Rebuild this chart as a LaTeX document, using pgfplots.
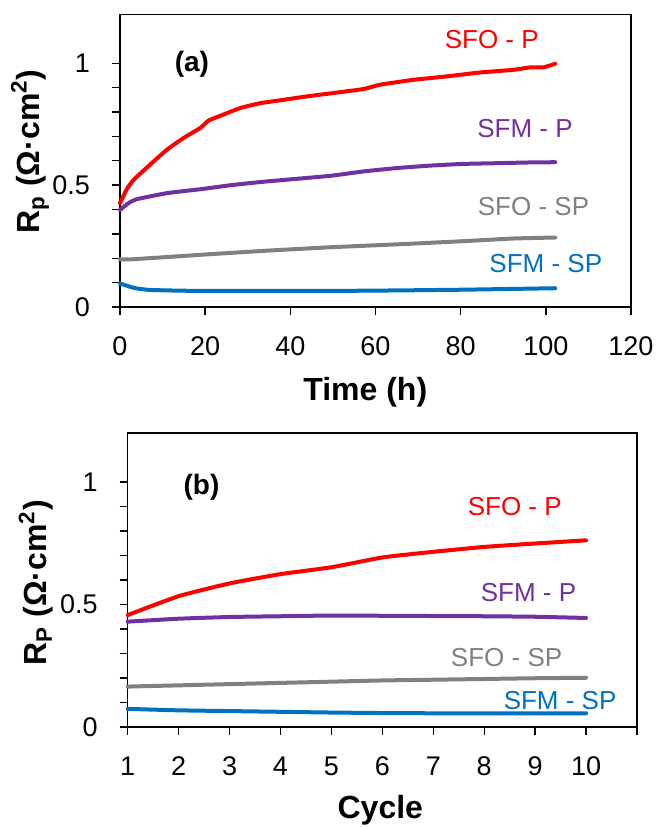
\documentclass[border=0pt]{standalone}
\usepackage{fontspec}
\setmainfont{Liberation Sans}
\usepackage{pgfplots}
\pgfplotsset{compat=1.18}
\definecolor{cRed}{RGB}{255,0,0}
\definecolor{cPur}{RGB}{112,48,160}
\definecolor{cGry}{RGB}{128,128,128}
\definecolor{cBlu}{RGB}{0,112,192}
\tikzset{lbl/.style={font=\fontsize{13}{15}\selectfont}}
\pgfplotsset{
 common/.style={
  scale only axis,
  axis line style={line width=0.7pt},
  tick align=outside, tick pos=left,
  major tick length=4pt, minor tick length=4pt,
  every tick/.style={black, line width=0.7pt},
  ymin=0, ymax=1.2, ytick={0,0.5,1}, minor y tick num=4,
  tick label style={font=\fontsize{13.5}{15}\selectfont},
  /pgf/number format/assume math mode=true,
  yticklabel style={xshift=-7.5pt},
  xticklabel style={yshift=-7.5pt},
  every axis plot/.append style={line width=2pt, line join=round, line cap=round, smooth, tension=0.3},
  clip=false,
 }
}
\begin{document}
\begin{tikzpicture}
\useasboundingbox (0,0) rectangle (329pt,413.5pt);
\begin{axis}[common, at={(60pt,260pt)}, width=255.5pt, height=146.25pt,
  xmin=0, xmax=120, xtick={0,20,...,120},
  xlabel={\fontsize{16}{18}\selectfont\bfseries Time (h)},
  xlabel style={at={(axis description cs:0.48,-0.29)}, anchor=center},
  ylabel={\fontsize{16}{18}\selectfont\bfseries R\textsubscript{p} (Ω·cm\textsuperscript{2})},
  ylabel style={at={(axis description cs:-0.176,0.532)}, anchor=center}]
\addplot[cRed] coordinates {(0,0.426) (1.5,0.48) (3.1,0.52) (7,0.583) (11,0.645) (14.9,0.693) (18.8,0.734) (20.8,0.765) (23.5,0.784) (28.2,0.816) (32.9,0.836) (38.4,0.850) (43.9,0.864) (49.3,0.876) (57.1,0.894) (61.1,0.912) (68.9,0.932) (76.7,0.946) (84.5,0.962) (92.4,0.973) (96.3,0.983) (99.4,0.983) (102.2,0.998)};
\addplot[cPur] coordinates {(0,0.398) (2,0.426) (3.9,0.442) (11,0.467) (18.8,0.483) (26.6,0.501) (34.4,0.515) (49.3,0.538) (57.1,0.556) (65,0.570) (72.8,0.580) (80.6,0.587) (88.5,0.590) (96.3,0.593) (102.2,0.594)};
\addplot[cGry] coordinates {(0,0.196) (3.1,0.196) (18.8,0.214) (34.4,0.231) (49.3,0.245) (65,0.257) (80.6,0.270) (92.4,0.281) (102.2,0.285)};
\addplot[cBlu] coordinates {(0,0.097) (3.1,0.079) (7,0.070) (18.8,0.066) (49.3,0.066) (65,0.068) (80.6,0.071) (102.2,0.077)};
\node[font=\fontsize{14}{16}\selectfont\bfseries] at (axis cs:16.9,0.994) {(a)};
\node[lbl, text=cRed] at (axis cs:87.3,1.099) {SFO - P};
\node[lbl, text=cPur] at (axis cs:95.1,0.731) {SFM - P};
\node[lbl, text=cGry] at (axis cs:97.1,0.412) {SFO - SP};
\node[lbl, text=cBlu] at (axis cs:100,0.179) {SFM - SP};
\end{axis}
\begin{axis}[common, at={(63.85pt,50pt)}, width=254.65pt, height=147pt,
  xmin=1, xmax=11, xtick={1,...,11}, xticklabels={1,2,3,4,5,6,7,8,9,10,{}},
  xlabel={\fontsize{16}{18}\selectfont\bfseries Cycle},
  xlabel style={at={(axis description cs:0.496,-0.282)}, anchor=center},
  ylabel={\fontsize{16}{18}\selectfont\bfseries R\textsubscript{P} (Ω·cm\textsuperscript{2})},
  ylabel style={at={(axis description cs:-0.18,0.49)}, anchor=center}]
\addplot[cRed] coordinates {(1,0.457) (2,0.534) (3,0.586) (4,0.624) (5,0.652) (6,0.692) (7,0.715) (8,0.735) (9,0.749) (10,0.762)};
\addplot[cPur] coordinates {(1,0.430) (2,0.442) (3,0.449) (4,0.452) (5,0.455) (6,0.454) (7,0.453) (8,0.452) (9,0.450) (10,0.445)};
\addplot[cGry] coordinates {(1,0.165) (2,0.170) (3,0.175) (4,0.180) (5,0.185) (6,0.190) (7,0.193) (8,0.196) (9,0.199) (10,0.201)};
\addplot[cBlu] coordinates {(1,0.074) (2,0.068) (3,0.065) (4,0.062) (5,0.059) (6,0.057) (7,0.056) (8,0.056) (9,0.056) (10,0.056)};
\node[font=\fontsize{14}{16}\selectfont\bfseries] at (axis cs:2.45,0.98) {(b)};
\node[lbl, text=cRed] at (axis cs:8.60,0.898) {SFO - P};
\node[lbl, text=cPur] at (axis cs:8.87,0.549) {SFM - P};
\node[lbl, text=cGry] at (axis cs:8.44,0.284) {SFO - SP};
\node[lbl, text=cBlu] at (axis cs:9.49,0.106) {SFM - SP};
\end{axis}
\end{tikzpicture}
\end{document}
